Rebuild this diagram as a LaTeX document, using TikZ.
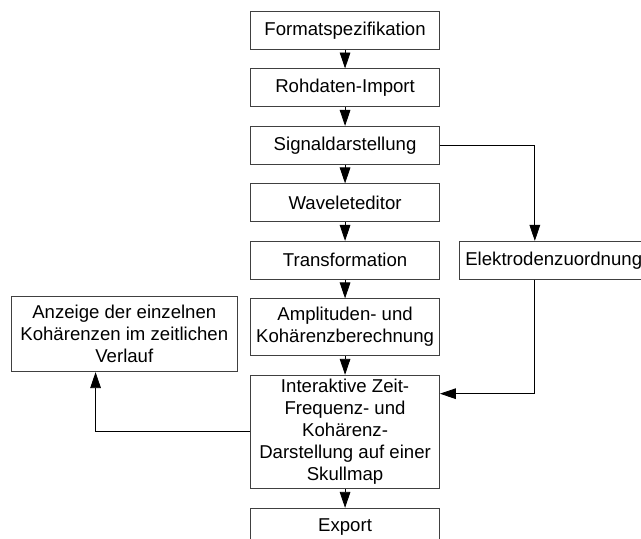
\documentclass[tikz,border=0pt]{standalone}
\usepackage{fontspec}
\setmainfont{Liberation Sans}
\usetikzlibrary{arrows.meta, positioning}

\begin{document}
\begin{tikzpicture}[node distance=0.5cm,
        every node/.style={font=\fontsize{14}{16.5}\selectfont},
        block/.style={rectangle, draw=black!75, line width=0.6pt, minimum width=5cm, minimum height=1cm, align=center, inner sep=2pt},
        arr/.style={-{Triangle[length=12pt, width=8pt]}, line width=0.6pt}]
        \useasboundingbox (0,0) rectangle (16.96,-14.235);

        \node[block, anchor=north] (format) at (9.13,-0.29) {Formatspezifikation};
        \node[block, below=of format] (import) {Rohdaten-Import};
        \node[block, below=of import] (signal) {Signaldarstellung};
        \node[block, below=of signal] (wavelet) {Waveleteditor};
        \node[block, below=of wavelet] (trafo) {Transformation};
        \node[block, below=of trafo, minimum height=1.5cm] (amp) {Amplituden- und\\Kohärenzberechnung};
        \node[block, below=of amp, minimum height=3cm] (interakt) {Interaktive Zeit-\\Frequenz- und\\Kohärenz-\\Darstellung auf einer\\Skullmap};
        \node[block, below=of interakt] (export) {Export};
        \node[block, right=of trafo] (elektro) {Elektrodenzuordnung};
        \node[block, left=0.32cm of amp, yshift=-0.18cm, minimum width=6cm, minimum height=2cm] (anzeige) {Anzeige der einzelnen\\Kohärenzen im zeitlichen\\Verlauf};

        \draw[arr] (format) -- (import);
        \draw[arr] (import) -- (signal);
        \draw[arr] (signal) -- (wavelet);
        \draw[arr] (wavelet) -- (trafo);
        \draw[arr] (trafo) -- (amp);
        \draw[arr] (amp) -- (interakt);
        \draw[arr] (interakt) -- (export);
        \draw[arr] (signal.east) -| ([xshift=-0.5cm]elektro.north);
        \draw[arr] ([xshift=-0.5cm]elektro.south) |- ([yshift=-0.5cm]interakt.north east);
        \draw[arr] (interakt.west) -| ([xshift=2.25cm]anzeige.south west);
    \end{tikzpicture}
\end{document}
